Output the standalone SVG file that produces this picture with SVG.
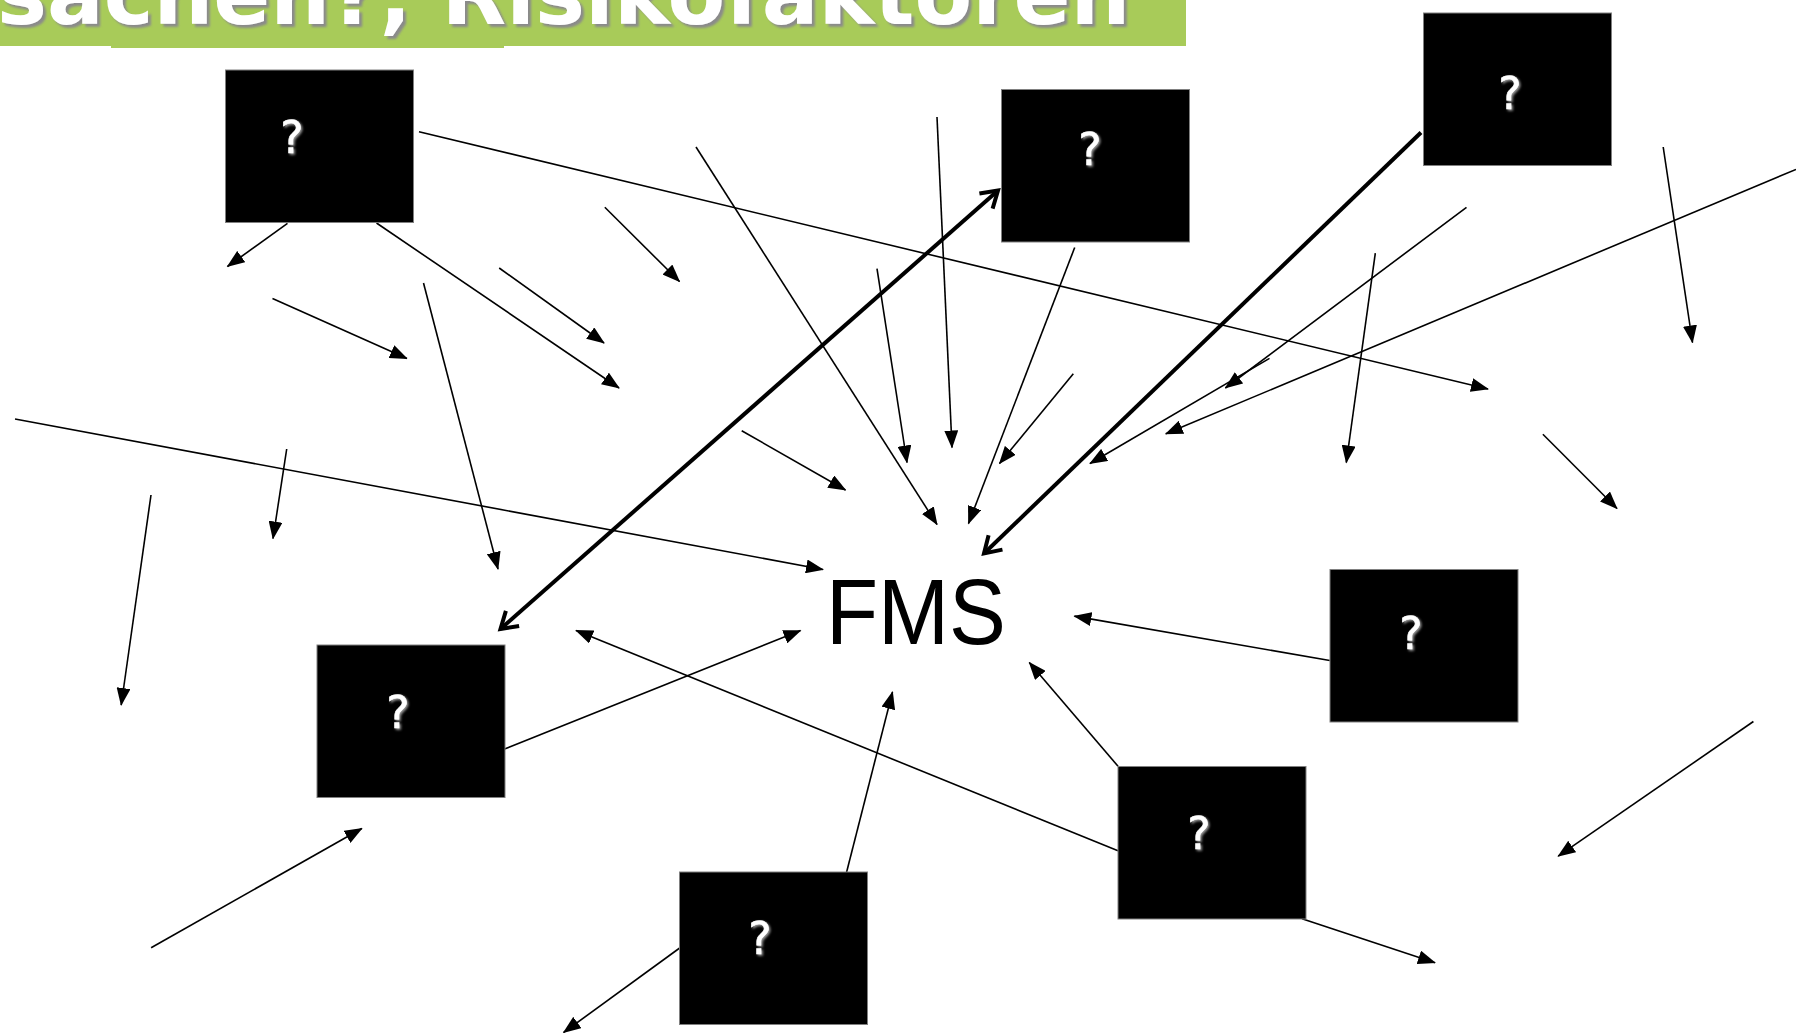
<svg xmlns="http://www.w3.org/2000/svg" width="1796" height="1033" viewBox="0 0 1796 1033">
<style>
.box{fill:#000;stroke:#808080;stroke-width:1}
.q{font-family:"DejaVu Sans",Verdana,sans-serif;font-weight:normal;font-size:44px;fill:#fff;stroke:#fff;stroke-width:0.6;text-anchor:middle;filter:url(#qs)}
.ln{stroke:#000;stroke-width:1.6;fill:none;marker-end:url(#a)}
.tk{stroke:#000;stroke-width:4;fill:none;marker-end:url(#b)}
.title{font-family:"DejaVu Sans",Verdana,sans-serif;font-weight:bold;font-size:84px;fill:#fff;filter:url(#ts)}
.fms{font-family:"Liberation Sans",Arial,sans-serif;font-size:92px;fill:#000}
</style>
<defs>
<marker id="a" markerUnits="userSpaceOnUse" markerWidth="18" markerHeight="14" viewBox="0 0 18 14" refX="17" refY="7" orient="auto">
<path d="M0,0 L18,7 L0,14 z" fill="#000"/>
</marker>
<marker id="b" markerUnits="userSpaceOnUse" markerWidth="26" markerHeight="26" viewBox="-3 -3 26 26" refX="18" refY="10" orient="auto-start-reverse">
<path d="M2,0 L18,10 L2,20" fill="none" stroke="#000" stroke-width="4"/>
</marker>
<filter id="ts" x="-5%" y="-50%" width="110%" height="200%">
<feDropShadow dx="3" dy="3" stdDeviation="1" flood-color="#8a8a8a" flood-opacity="1"/>
</filter>
<filter id="qs" x="-50%" y="-50%" width="200%" height="200%">
<feDropShadow dx="1.5" dy="1.5" stdDeviation="0.8" flood-color="#9a9a9a" flood-opacity="1"/>
</filter>
</defs>

<g id="title">
<rect x="0" y="0" width="1186" height="46" fill="#a8cb59"/>
<rect x="111" y="45" width="393" height="3" fill="#a8cb59"/>
<text class="title" x="-3" y="24">sachen?; Risikofaktoren</text>
</g>

<g id="connectors">
<line class="ln" x1="287.5" y1="223.4" x2="227.5" y2="266.5"/>
<line class="ln" x1="376.5" y1="223" x2="619" y2="388"/>
<line class="ln" x1="419" y1="131.7" x2="1488" y2="389"/>
<line class="ln" x1="604.8" y1="207.3" x2="679.5" y2="281.5"/>
<line class="ln" x1="499.2" y1="268" x2="604" y2="343"/>
<line class="ln" x1="272.5" y1="298.5" x2="407" y2="358.5"/>
<line class="ln" x1="423.5" y1="283" x2="498" y2="569"/>
<line class="ln" x1="15" y1="419" x2="823" y2="569.5"/>
<line class="ln" x1="286.7" y1="449" x2="273" y2="538.5"/>
<line class="ln" x1="151" y1="495" x2="121.2" y2="705"/>
<line class="ln" x1="696" y1="147" x2="937" y2="524.5"/>
<line class="tk" style="marker-start:url(#b)" x1="500.5" y1="629" x2="998" y2="190.5"/>
<line class="ln" x1="877" y1="268.7" x2="907" y2="462.5"/>
<line class="ln" x1="937" y1="117" x2="952" y2="447.5"/>
<line class="ln" x1="1074.7" y1="247.5" x2="968.5" y2="523.5"/>
<line class="ln" x1="1073.3" y1="373.7" x2="999.5" y2="463.5"/>
<line class="ln" x1="741.7" y1="430.7" x2="845.5" y2="490"/>
<line class="tk" x1="1421" y1="132.5" x2="984" y2="553.5"/>
<line class="ln" x1="1466.5" y1="207.3" x2="1225.4" y2="388"/>
<line class="ln" x1="1269.5" y1="358.4" x2="1090" y2="463.5"/>
<line class="ln" x1="1796" y1="169.4" x2="1165.8" y2="433.8"/>
<line class="ln" x1="1375.3" y1="253.2" x2="1346.3" y2="462.5"/>
<line class="ln" x1="1663.2" y1="147" x2="1692.5" y2="342.5"/>
<line class="ln" x1="1542.9" y1="434.2" x2="1617" y2="508.5"/>
<line class="ln" x1="1329.8" y1="660.5" x2="1074.4" y2="616.1"/>
<line class="ln" x1="1118" y1="766.2" x2="1029.3" y2="662.5"/>
<line class="ln" x1="1118" y1="850.8" x2="576" y2="630.5"/>
<line class="ln" x1="1302" y1="918.8" x2="1435" y2="962.7"/>
<line class="ln" x1="504.6" y1="749" x2="800.5" y2="630.5"/>
<line class="ln" x1="151.1" y1="947.7" x2="361.8" y2="828.5"/>
<line class="ln" x1="846.5" y1="872.5" x2="892.5" y2="692"/>
<line class="ln" x1="679.7" y1="948" x2="563.6" y2="1032.5"/>
<line class="ln" x1="1753.4" y1="721.5" x2="1558.2" y2="856.2"/>
</g>

<g id="fms">
<text class="fms" x="826" y="644" textLength="180" lengthAdjust="spacingAndGlyphs">FMS</text>
</g>

<g id="node1">
<rect class="box" x="225.5" y="70" width="188" height="152.5"/>
<text class="q" x="292" y="153">?</text>
</g>
<g id="node2">
<rect class="box" x="1001.5" y="89.5" width="188" height="152.5"/>
<text class="q" x="1090" y="165">?</text>
</g>
<g id="node3">
<rect class="box" x="1423.5" y="13" width="188" height="152.5"/>
<text class="q" x="1510" y="109">?</text>
</g>
<g id="node4">
<rect class="box" x="1330" y="569.5" width="188" height="152.5"/>
<text class="q" x="1411" y="649">?</text>
</g>
<g id="node5">
<rect class="box" x="317" y="645" width="188" height="152.5"/>
<text class="q" x="398" y="728">?</text>
</g>
<g id="node6">
<rect class="box" x="679.5" y="872" width="188" height="152.5"/>
<text class="q" x="760" y="954">?</text>
</g>
<g id="node7">
<rect class="box" x="1118" y="766.5" width="188" height="152.5"/>
<text class="q" x="1199" y="849">?</text>
</g>
</svg>
